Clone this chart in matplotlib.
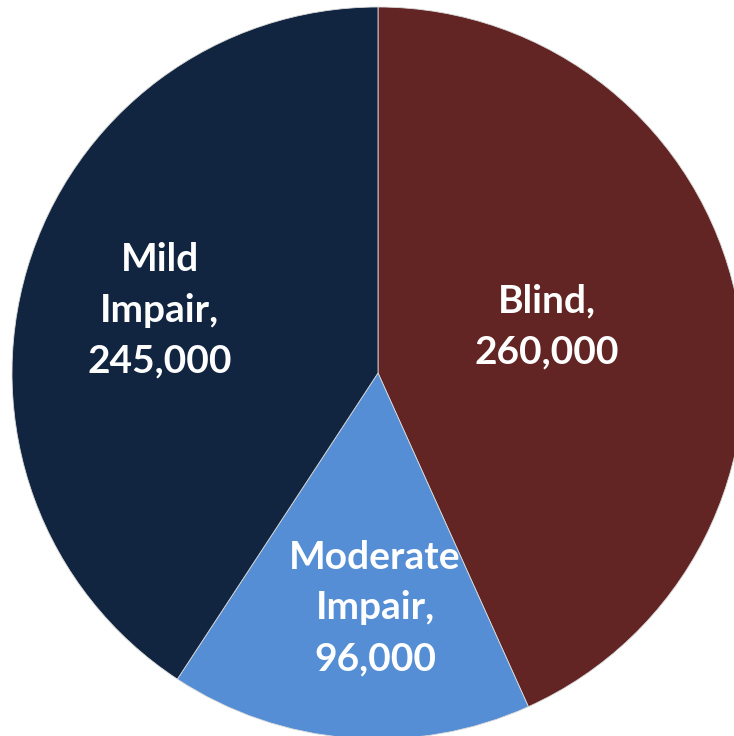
import matplotlib
matplotlib.use("Agg")
import matplotlib.pyplot as plt

categories = ["Blind", "Moderate\nImpair", "Mild\nImpair"]
values = [260000, 96000, 245000]
colors = ["#632523", "#558ED5", "#112540"]
# label anchor points in pie-radius units
label_pos = [(0.462, 0.126), (-0.008, -0.642), (-0.596, 0.172)]

W, H = 734, 736
cx, cy, r = 378, 373, 366

fig = plt.figure(figsize=(W / 100, H / 100), dpi=100)
ax = fig.add_axes([0, 0, 1, 1])
ax.pie(values, colors=colors, startangle=90, counterclock=False, radius=1,
       wedgeprops=dict(edgecolor="#d9d9d9", linewidth=0.6))
ax.set_xlim(-cx / r, (W - cx) / r)
ax.set_ylim(-(H - cy) / r, cy / r)
ax.set_aspect("auto")
ax.axis("off")

for name, val, (x, y) in zip(categories, values, label_pos):
    ax.text(x, y, f"{name},\n{val:,}", ha="center", va="center",
            color="white", fontsize=28, fontweight="bold", family="Lato",
            linespacing=1.55)

fig.savefig("out.png", dpi=100)
